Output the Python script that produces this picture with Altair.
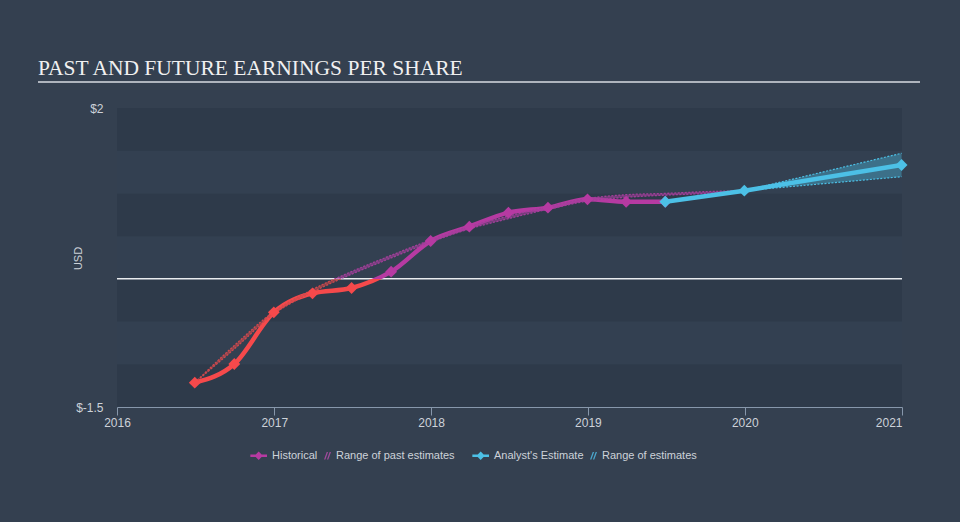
import altair as alt
import pandas as pd

# ---------------- data ----------------
hist_dates = ["2016-06-30", "2016-09-30", "2016-12-31", "2017-03-31", "2017-06-30",
              "2017-09-30", "2017-12-31", "2018-03-31", "2018-06-30", "2018-09-30",
              "2018-12-31", "2019-03-31", "2019-06-30"]
hist_eps = [-1.215, -0.997, -0.392, -0.169, -0.107, 0.084, 0.443, 0.611, 0.775,
            0.833, 0.931, 0.903, 0.903]

past_dates = ["2016-06-30", "2016-09-30", "2016-12-31", "2017-03-31", "2017-06-30",
              "2017-09-30", "2017-12-31", "2018-03-31", "2018-06-30", "2018-09-30",
              "2018-12-31", "2019-03-31", "2019-06-30", "2019-09-30", "2019-12-31"]
past_low = [-1.215, -0.82, -0.41, -0.155, 0.055, 0.245, 0.43, 0.585, 0.705, 0.815,
            0.91, 0.955, 0.98, 1.0, 1.032]
past_high = [-1.215, -0.78, -0.385, -0.125, 0.085, 0.275, 0.455, 0.615, 0.735, 0.845,
             0.94, 0.985, 1.0, 1.02, 1.032]

est_dates = ["2019-06-30", "2019-12-31", "2020-12-31"]
est_eps = [0.903, 1.032, 1.333]

range_dates = ["2019-12-31", "2020-12-31"]
range_low = [1.032, 1.196]
range_high = [1.032, 1.47]

band_lo = [-1.5, -1.0, -0.5, 0.0, 0.5, 1.0, 1.5]
band_hi = [-1.0, -0.5, 0.0, 0.5, 1.0, 1.5, 2.0]
band_shade = ["a", "b", "a", "b", "a", "b", "a"]

legend_past = ["Historical", "Range of past estimates"]
legend_future = ["Analyst's Estimate", "Range of estimates"]

y_ticks = [-1.5, 2]

# ---------------- styles ----------------
BG = "#344050"
BAND_DARK = "#2e3a4a"
BAND_LIGHT = "#334051"
RED = "#f6494b"
MAGENTA = "#b63aa2"
BLUE = "#4cc0e6"
PAST_RED = "#d0484c"
PAST_PURPLE = "#a23e9a"
TXT = "#cdd2d9"
AXIS_LINE = "#8797ab"

W, H = 785, 299

hist = pd.DataFrame({"date": hist_dates, "eps": hist_eps})
past = pd.DataFrame({"date": past_dates, "low": past_low, "high": past_high})
est = pd.DataFrame({"date": est_dates, "eps": est_eps})
rng = pd.DataFrame({"date": range_dates, "low": range_low, "high": range_high})
bands = pd.DataFrame({"lo": band_lo, "hi": band_hi, "shade": band_shade})


def sign_gradient(vmin, vmax, neg, pos):
    f = (0 - vmin) / (vmax - vmin)
    f = min(max(f, 0.0), 1.0)
    return alt.Gradient(
        gradient="linear", x1=0, x2=0, y1=1, y2=0,
        stops=[alt.GradientStop(color=neg, offset=0),
               alt.GradientStop(color=neg, offset=f),
               alt.GradientStop(color=pos, offset=f),
               alt.GradientStop(color=pos, offset=1)])


x_scale = alt.Scale(type="utc",
                    domain=[alt.DateTime(year=2016, month=1, date=1, utc=True),
                            alt.DateTime(year=2021, month=1, date=1, utc=True)])
y_scale = alt.Scale(domain=[-1.5, 2], nice=False, zero=False)

x_axis = alt.Axis(title=None, format="%Y", tickCount={"interval": "year", "step": 1},
                  grid=False, domainColor=AXIS_LINE, tickColor=AXIS_LINE, tickSize=8,
                  labelColor=TXT, labelFontSize=12, labelFont="Liberation Sans",
                  labelPadding=2, labelFlush=False,
                  labelAlign={"expr": "datum.index === 1 ? 'right' : 'center'"})
y_axis = alt.Axis(title="USD", values=y_ticks, labelExpr="'$' + datum.value",
                  grid=False, domain=False, ticks=False, labelPadding=14,
                  labelColor=TXT, labelFontSize=12, labelFont="Liberation Sans",
                  titleColor=TXT, titleFontSize=11, titleFontWeight="normal",
                  titleFont="Liberation Sans", titleX=-34, titleY=150,
                  titleAlign="center", titleBaseline="bottom")

X = alt.X("date:T", scale=x_scale, axis=x_axis)
Y = alt.Y("eps:Q", scale=y_scale, axis=y_axis)

band_layer = alt.Chart(bands).mark_rect().encode(
    x=alt.value(0), x2=alt.value(W),
    y=alt.Y("lo:Q", scale=y_scale, axis=y_axis), y2="hi:Q",
    fill=alt.Fill("shade:N", scale=alt.Scale(domain=["a", "b"], range=[BAND_DARK, BAND_LIGHT]),
                  legend=None))

zero_rule = alt.Chart(pd.DataFrame({"z": [0]})).mark_rule(color="#e9ecef", strokeWidth=1.5).encode(
    y=alt.Y("z:Q", scale=y_scale, axis=y_axis))

# underline beneath the title (decoration)
title_rule = alt.Chart(pd.DataFrame({"z": [0]})).mark_rule(color="#aeb4bd", strokeWidth=2).encode(
    x=alt.value(-79), x2=alt.value(803), y=alt.value(-26))

past_area = alt.Chart(past).mark_area(
    interpolate="monotone", opacity=0.6,
    fill=sign_gradient(min(past_low), max(past_high), PAST_RED, PAST_PURPLE)).encode(
    x=X, y=alt.Y("low:Q", scale=y_scale, axis=y_axis), y2="high:Q")
past_lo_line = alt.Chart(past).mark_line(
    interpolate="monotone", strokeWidth=1.3, strokeDash=[2, 1.5],
    stroke=sign_gradient(min(past_low), max(past_low), PAST_RED, PAST_PURPLE)).encode(
    x=X, y=alt.Y("low:Q", scale=y_scale, axis=y_axis))
past_hi_line = alt.Chart(past).mark_line(
    interpolate="monotone", strokeWidth=1.3, strokeDash=[2, 1.5],
    stroke=sign_gradient(min(past_high), max(past_high), PAST_RED, PAST_PURPLE)).encode(
    x=X, y=alt.Y("high:Q", scale=y_scale, axis=y_axis))

rng_area = alt.Chart(rng).mark_area(color=BLUE, opacity=0.38).encode(
    x=X, y=alt.Y("low:Q", scale=y_scale, axis=y_axis), y2="high:Q")
rng_lo = alt.Chart(rng).mark_line(color=BLUE, strokeWidth=1.2, strokeDash=[2, 1.5]).encode(
    x=X, y=alt.Y("low:Q", scale=y_scale, axis=y_axis))
rng_hi = alt.Chart(rng).mark_line(color=BLUE, strokeWidth=1.2, strokeDash=[2, 1.5]).encode(
    x=X, y=alt.Y("high:Q", scale=y_scale, axis=y_axis))

hist_line = alt.Chart(hist).mark_line(
    interpolate="monotone", strokeWidth=4.5,
    stroke=sign_gradient(min(hist_eps), max(hist_eps), RED, MAGENTA)).encode(x=X, y=Y)
hist_neg = alt.Chart(hist).transform_filter("datum.eps < 0").mark_point(
    shape="diamond", filled=True, size=140, color=RED, opacity=1).encode(x=X, y=Y)
hist_pos = alt.Chart(hist).transform_filter("datum.eps >= 0").mark_point(
    shape="diamond", filled=True, size=140, color=MAGENTA, opacity=1).encode(x=X, y=Y)

est_line = alt.Chart(est).mark_line(color=BLUE, strokeWidth=4.5).encode(x=X, y=Y)
est_pts = alt.Chart(est).mark_point(shape="diamond", filled=True, size=140,
                                    color=BLUE, opacity=1).encode(x=X, y=Y)

# legends (symbols only, no marks drawn)
cx = -0.85
line_sym = (f"M-2.7,-0.3 L{cx-0.65},-0.3 L{cx},-0.95 L{cx+0.65},-0.3 L1,-0.3 L1,0.3 "
            f"L{cx+0.65},0.3 L{cx},0.95 L{cx-0.65},0.3 L-2.7,0.3 Z")
hatch_sym = ("M-0.55,0.85 L-0.25,0.85 L0.35,-0.85 L0.05,-0.85 Z "
             "M0.1,0.85 L0.4,0.85 L1.0,-0.85 L0.7,-0.85 Z")


def make_legend(x):
    return alt.Legend(title=None, orient="none", legendX=x, legendY=342,
                      direction="horizontal", symbolSize=81, symbolStrokeWidth=0,
                      labelOffset=4, columnPadding=3, labelColor=TXT,
                      labelFont="Liberation Sans", labelFontSize=11, padding=0,
                      labelLimit=400)


def legend_layer(labels, colors, x):
    lg = make_legend(x)
    return alt.Chart(pd.DataFrame({"series": labels})).transform_filter("false").mark_point(
        filled=True, opacity=1).encode(
        x=alt.value(0), y=alt.value(0),
        color=alt.Color("series:N", scale=alt.Scale(domain=labels, range=colors),
                        legend=lg, sort=labels),
        shape=alt.Shape("series:N", scale=alt.Scale(domain=labels, range=[line_sym, hatch_sym]),
                        legend=lg, sort=labels))


leg_a = legend_layer(legend_past, [MAGENTA, "#a04a9c"], 140)
leg_b = legend_layer(legend_future, [BLUE, "#4aa6cc"], 362)

chart = alt.layer(
    band_layer, zero_rule, title_rule,
    rng_area, rng_lo, rng_hi,
    hist_line, past_area, past_lo_line, past_hi_line,
    hist_neg, hist_pos, est_line, est_pts, leg_a, leg_b
).resolve_scale(color="independent", shape="independent").properties(
    width=W, height=H,
    autosize=alt.AutoSizeParams(type="none"),
    padding={"left": 117, "top": 108, "right": 58, "bottom": 115},
    background=BG,
    title=alt.TitleParams(text="PAST AND FUTURE EARNINGS PER SHARE", anchor="start",
                          frame="group", dx=-79, dy=42, offset=27, font="Liberation Serif",
                          fontSize=21.5, fontWeight="normal", color="#f0f0f0",
                          baseline="alphabetic"),
).configure_view(stroke=None)

chart.save("out.html", embed_options={"renderer": "svg", "actions": False})
